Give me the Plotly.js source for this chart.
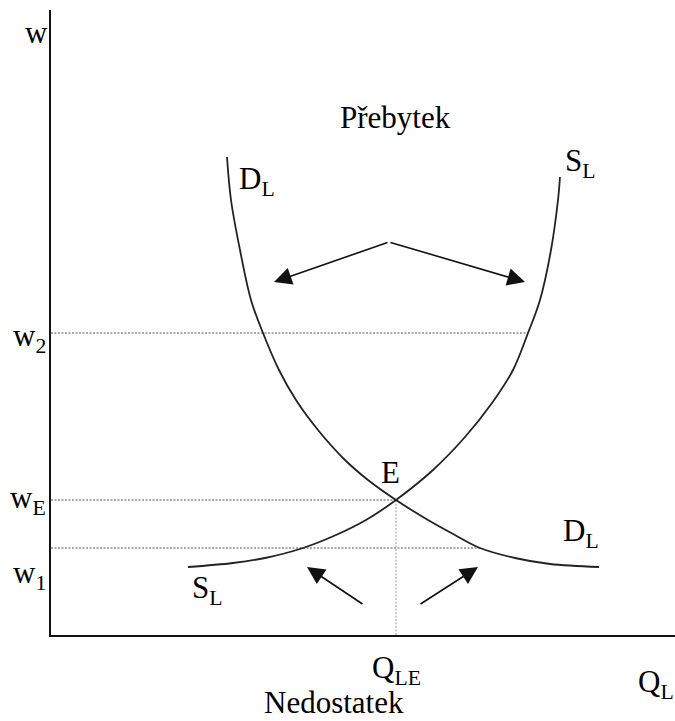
<!DOCTYPE html>
<html>
<head>
<meta charset="utf-8">
<script src="https://cdn.plot.ly/plotly-3.0.1.min.js"></script>
<style>html,body{margin:0;padding:0;background:#fff;}</style>
</head>
<body>
<div id="chart" style="width:675px;height:721px;"></div>
<script>
// Demand curve D_L (quantity of labour Q, wage w)
const demandQ = [176, 180, 189, 200, 212, 228, 245, 267, 294, 317, 345, 377, 404, 429, 464, 499, 548];
const demandW = [478, 435, 385, 335, 302, 265, 235, 205, 175, 155, 135, 115, 100, 87, 77, 71, 68];
// Supply curve S_L
const supplyQ = [509, 507, 500, 489, 477, 462, 441, 414, 382, 345, 315, 285, 252, 214, 182, 137];
const supplyW = [458, 435, 385, 335, 302, 265, 232, 198, 165, 135, 115, 100, 87, 77, 72, 68];
// Wage levels and where their guide lines end
const wageNames = ['w<sub>2</sub>', 'w<sub>E</sub>', 'w<sub>1</sub>'];
const wageLevels = [302, 135, 87];
const wageLineEnds = [477, 345, 429];
const wageLabelW = [297, 135, 60];
// Equilibrium
const eqQ = 345;
const eqW = 135;
// Curve / region labels
const labelTexts = ['w', 'D<sub>L</sub>', 'S<sub>L</sub>', 'Přebytek', 'E', 'D<sub>L</sub>', 'S<sub>L</sub>', 'Q<sub>LE</sub>', 'Q<sub>L</sub>'];
const labelQ = [-15, 206, 529, 344, 340, 530, 156, 345, 605];
const labelW = [603, 454, 472, 518, 163, 102, 45, -35, -49];
const bottomTitle = 'Nedostatek';
const bottomTitleQ = 283;
// Pressure arrows (tail -> head)
const arrowTailQ = [338, 338, 313, 368];
const arrowTailW = [393, 393, 30, 30];
const arrowHeadQ = [223, 474, 256, 427];
const arrowHeadW = [353, 353, 68, 68];

const serif = 'Liberation Serif, Times New Roman, serif';
const ink = '#000';
const xSpan = 624, ySpan = 625, bottomMargin = 86;
const px = q => q / xSpan;   // data -> paper (plot area) fraction
const py = w => w / ySpan;

const traces = [];
wageLevels.forEach((w, i) => {
  traces.push({x: [0, wageLineEnds[i]], y: [w, w], mode: 'lines', type: 'scatter',
    line: {color: '#555', width: 1, dash: '2px,1.5px'}, hoverinfo: 'skip', showlegend: false});
});
traces.push({x: [eqQ, eqQ], y: [0, eqW], mode: 'lines', type: 'scatter',
  line: {color: '#999', width: 1, dash: '2px,1.5px'}, hoverinfo: 'skip', showlegend: false});
traces.push({x: demandQ, y: demandW, mode: 'lines', type: 'scatter',
  line: {color: '#222', width: 1.8, shape: 'spline', smoothing: 1}, showlegend: false});
traces.push({x: supplyQ, y: supplyW, mode: 'lines', type: 'scatter',
  line: {color: '#222', width: 1.8, shape: 'spline', smoothing: 1}, showlegend: false});

const annotations = [];
wageNames.forEach((t, i) => {
  annotations.push({x: px(-3), y: py(wageLabelW[i]), xref: 'paper', yref: 'paper', text: t, showarrow: false,
    xanchor: 'right', yanchor: 'middle', font: {family: serif, size: 31, color: ink}});
});
labelTexts.forEach((t, i) => {
  annotations.push({x: px(labelQ[i]), y: py(labelW[i]), xref: 'paper', yref: 'paper', text: t, showarrow: false,
    xanchor: 'center', yanchor: 'middle', font: {family: serif, size: 31, color: ink}});
});
annotations.push({x: px(bottomTitleQ), y: py(-bottomMargin), xref: 'paper', yref: 'paper', text: bottomTitle,
  showarrow: false, xanchor: 'center', yanchor: 'bottom', borderpad: 0,
  font: {family: serif, size: 31, color: ink}});
arrowTailQ.forEach((q, i) => {
  annotations.push({x: arrowHeadQ[i], y: arrowHeadW[i], ax: q, ay: arrowTailW[i],
    xref: 'x', yref: 'y', axref: 'x', ayref: 'y', text: '', showarrow: true,
    arrowhead: 2, arrowsize: 2.2, arrowwidth: 1.6, arrowcolor: '#111'});
});

const layout = {
  width: 675, height: 721,
  margin: {l: 51, r: 0, t: 10, b: bottomMargin},
  paper_bgcolor: '#fff', plot_bgcolor: '#fff',
  showlegend: false,
  xaxis: {range: [0, xSpan], showgrid: false, zeroline: false, showticklabels: false, ticks: '',
    showline: true, linecolor: '#111', linewidth: 2, fixedrange: true},
  yaxis: {range: [0, ySpan], showgrid: false, zeroline: false, showticklabels: false, ticks: '',
    showline: true, linecolor: '#111', linewidth: 2, fixedrange: true},
  annotations: annotations
};

Plotly.newPlot('chart', traces, layout, {staticPlot: true});
</script>
</body>
</html>
